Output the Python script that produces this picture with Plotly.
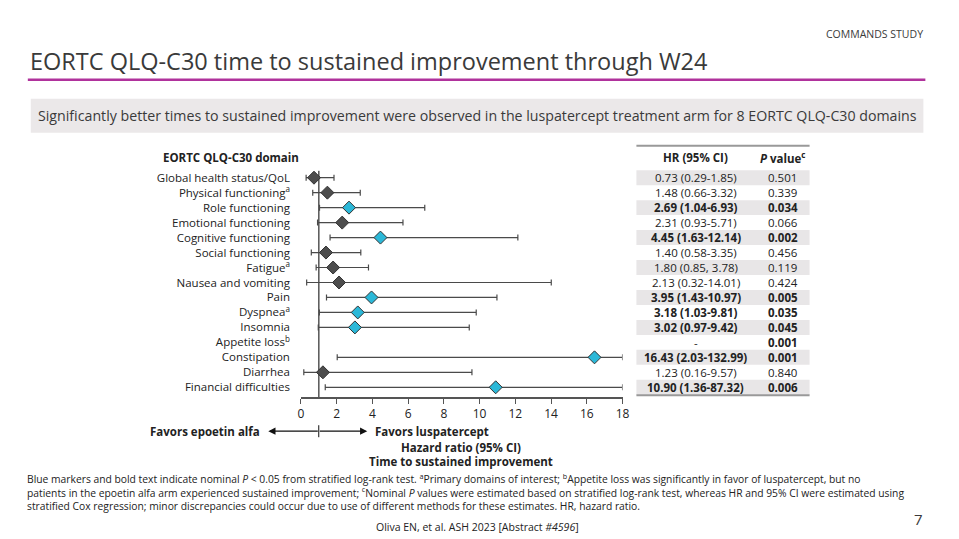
import plotly.graph_objects as go

domains = ["Global health status/QoL", "Physical functioning<sup>a</sup>", "Role functioning",
           "Emotional functioning", "Cognitive functioning", "Social functioning",
           "Fatigue<sup>a</sup>", "Nausea and vomiting", "Pain", "Dyspnea<sup>a</sup>", "Insomnia",
           "Appetite loss<sup>b</sup>", "Constipation", "Diarrhea", "Financial difficulties"]
hr = [0.73, 1.48, 2.69, 2.31, 4.45, 1.40, 1.80, 2.13, 3.95, 3.18, 3.02, None, 16.43, 1.23, 10.90]
lo = [0.29, 0.66, 1.04, 0.93, 1.63, 0.58, 0.85, 0.32, 1.43, 1.03, 0.97, None, 2.03, 0.16, 1.36]
hi = [1.85, 3.32, 6.93, 5.71, 12.14, 3.35, 3.78, 14.01, 10.97, 9.81, 9.42, None, 132.99, 9.57, 87.32]
hr_text = ["0.73 (0.29-1.85)", "1.48 (0.66-3.32)", "2.69 (1.04-6.93)", "2.31 (0.93-5.71)",
           "4.45 (1.63-12.14)", "1.40 (0.58-3.35)", "1.80 (0.85, 3.78)", "2.13 (0.32-14.01)",
           "3.95 (1.43-10.97)", "3.18 (1.03-9.81)", "3.02 (0.97-9.42)", "-",
           "16.43 (2.03-132.99)", "1.23 (0.16-9.57)", "10.90 (1.36-87.32)"]
p_text = ["0.501", "0.339", "0.034", "0.066", "0.002", "0.456", "0.119", "0.424",
          "0.005", "0.035", "0.045", "0.001", "0.001", "0.840", "0.006"]
x_ticks = [0, 2, 4, 6, 8, 10, 12, 14, 16, 18]

W, H = 959, 539
OFF = 8  # page margin around the figure
XMAX = 18
FONT = "Open Sans"
DARK = "#3a3a3a"


def px(x):
    return (x - OFF) / W


def py(y):
    return 1 - (y - OFF) / H


sig = [float(p) < 0.05 for p in p_text]
idx = [i for i in range(len(domains)) if hr[i] is not None]

fig = go.Figure()
for flag, color in [(False, "#4d4d4d"), (True, "#2bb8d8")]:
    ii = [i for i in idx if sig[i] == flag]
    fig.add_trace(go.Scatter(
        x=[hr[i] for i in ii], y=ii, mode="markers",
        marker=dict(symbol="diamond", size=10, color=color, line=dict(color="#333", width=1)),
        error_x=dict(type="data", symmetric=False,
                     array=[min(hi[i], XMAX) - hr[i] for i in ii],
                     arrayminus=[hr[i] - lo[i] for i in ii],
                     color="#4a4a4a", thickness=1.2, width=3),
        showlegend=False, cliponaxis=False))

fig.add_shape(type="line", x0=1, x1=1, y0=-0.5, y1=14.67, xref="x", yref="y",
              line=dict(color="#555", width=1.5), layer="below")

fig.update_xaxes(domain=[px(301), px(626)], range=[0, XMAX], tickvals=x_ticks,
                 showline=True, linecolor="#555", linewidth=1.5, ticks="outside",
                 ticklen=5, tickcolor="#555", showgrid=False, zeroline=False,
                 tickfont=dict(size=12, color="#222"))
fig.update_yaxes(domain=[py(397), py(170)], range=[14.667, -0.467], tickvals=list(range(15)),
                 ticktext=domains, showgrid=False, zeroline=False, ticks="",
                 tickfont=dict(size=11.5, color="#222"), ticklabelstandoff=10)

# table
rows_y = [177 + 15 * i for i in range(15)]
for i, yy in enumerate(rows_y):
    if i % 2 == 0:
        fig.add_shape(type="rect", xref="paper", yref="paper", x0=px(640), x1=px(815),
                      y0=py(yy + 7.5), y1=py(yy - 7.5), fillcolor="#e8e6e7", line_width=0,
                      layer="below")
for yy in (145, 395):
    fig.add_shape(type="line", xref="paper", yref="paper", x0=px(640), x1=px(815),
                  y0=py(yy), y1=py(yy), line=dict(color="#999", width=2))
# header decoration
fig.add_shape(type="line", xref="paper", yref="paper", x0=px(25), x1=px(932),
              y0=py(79), y1=py(79), line=dict(color="#b0329c", width=2.5))
fig.add_shape(type="rect", xref="paper", yref="paper", x0=px(28), x1=px(930),
              y0=py(132), y1=py(98), fillcolor="#ebe8e9", line_width=0, layer="below")
fig.add_shape(type="line", xref="paper", yref="paper", x0=px(319), x1=px(319),
              y0=py(425), y1=py(437), line=dict(color="#111", width=1))

ann = []
for i, yy in enumerate(rows_y):
    b = sig[i] and hr[i] is not None
    ann.append(dict(x=px(700), y=py(yy), text=f"<b>{hr_text[i]}</b>" if b else hr_text[i]))
    ann.append(dict(x=px(788), y=py(yy), text=f"<b>{p_text[i]}</b>" if sig[i] else p_text[i]))
for a in ann:
    a.update(xref="paper", yref="paper", showarrow=False, xanchor="center", yanchor="middle",
             font=dict(size=11.5, color="#222"))

extra = [
    dict(x=px(700), y=py(157), text="<b>HR (95% CI)</b>", size=11.5),
    dict(x=px(788), y=py(157), text="<b><i>P</i> value<sup>c</sup></b>", size=11.5),
    dict(x=px(160), y=py(157), text="<b>EORTC QLQ-C30 domain</b>", size=11.5, xanchor="left"),
    dict(x=px(25), y=py(60), text="EORTC QLQ-C30 time to sustained improvement through W24",
         size=23.5, xanchor="left", color=DARK),
    dict(x=px(932), y=py(33), text="COMMANDS STUDY", size=10.5, xanchor="right", color=DARK),
    dict(x=px(479), y=py(115), text="Significantly better times to sustained improvement were observed in the luspatercept treatment arm for 8 EORTC QLQ-C30 domains",
         size=14.2, color=DARK),
    dict(x=px(262), y=py(431), text="<b>Favors epoetin alfa</b>", size=11.5, xanchor="right"),
    dict(x=px(374), y=py(431), text="<b>Favors luspatercept</b>", size=11.5, xanchor="left"),
    dict(x=px(463), y=py(447), text="<b>Hazard ratio (95% CI)</b>", size=11.5),
    dict(x=px(463), y=py(461), text="<b>Time to sustained improvement</b>", size=11.5),
    dict(x=px(22), y=py(492),
         text="Blue markers and bold text indicate nominal <i>P</i> &lt; 0.05 from stratified log-rank test. <sup>a</sup>Primary domains of interest; <sup>b</sup>Appetite loss was significantly in favor of luspatercept, but no<br>"
              "patients in the epoetin alfa arm experienced sustained improvement; <sup>c</sup>Nominal <i>P</i> values were estimated based on stratified log-rank test, whereas HR and 95% CI were estimated using<br>"
              "stratified Cox regression; minor discrepancies could occur due to use of different methods for these estimates. HR, hazard ratio.",
         size=10.3, xanchor="left", align="left"),
    dict(x=px(479), y=py(527), text="Oliva EN, et al. ASH 2023 [Abstract <i>#4596</i>]", size=10.5),
    dict(x=px(932), y=py(519), text="7", size=15, xanchor="right", color=DARK),
]
for e in extra:
    ann.append(dict(xref="paper", yref="paper", x=e["x"], y=e["y"], text=e["text"], showarrow=False,
                    xanchor=e.get("xanchor", "center"), yanchor="middle", align=e.get("align", "center"),
                    font=dict(size=e["size"], color=e.get("color", "#222"))))

# arrows
for tx in (268, 368):
    ann.append(dict(xref="paper", yref="paper", axref="pixel", ayref="pixel",
                    x=px(tx), y=py(431), ax=319 - tx, ay=0, text="", showarrow=True,
                    arrowhead=2, arrowsize=1.2, arrowwidth=1.2, arrowcolor="#111"))

fig.update_layout(annotations=ann, width=W, height=H, margin=dict(l=0, r=0, t=0, b=0),
                  paper_bgcolor="white", plot_bgcolor="white", font=dict(family=FONT))
fig.write_html("out.html")
